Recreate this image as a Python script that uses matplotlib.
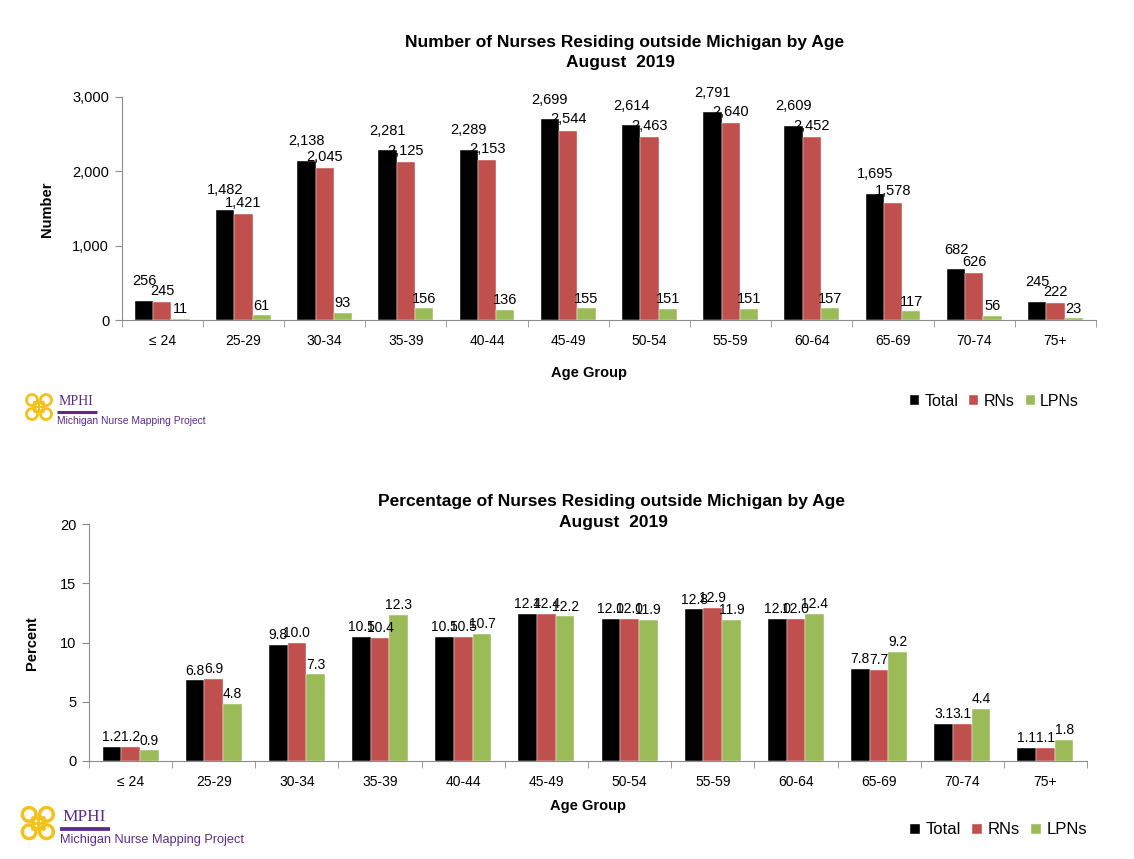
import matplotlib
matplotlib.use("Agg")
import matplotlib.pyplot as plt
from matplotlib.patches import Circle, Rectangle
import numpy as np

plt.rcParams['font.family'] = ['Liberation Sans', 'DejaVu Sans']

# data
age_groups = ["≤ 24", "25-29", "30-34", "35-39", "40-44", "45-49",
              "50-54", "55-59", "60-64", "65-69", "70-74", "75+"]

count_total = [256, 1482, 2138, 2281, 2289, 2699, 2614, 2791, 2609, 1695, 682, 245]
count_rn = [245, 1421, 2045, 2125, 2153, 2544, 2463, 2640, 2452, 1578, 626, 222]
count_lpn = [11, 61, 93, 156, 136, 155, 151, 151, 157, 117, 56, 23]

pct_total = [1.2, 6.8, 9.8, 10.5, 10.5, 12.4, 12.0, 12.8, 12.0, 7.8, 3.1, 1.1]
pct_rn = [1.2, 6.9, 10.0, 10.4, 10.5, 12.4, 12.0, 12.9, 12.0, 7.7, 3.1, 1.1]
pct_lpn = [0.9, 4.8, 7.3, 12.3, 10.7, 12.2, 11.9, 11.9, 12.4, 9.2, 4.4, 1.8]

series_names = ["Total", "RNs", "LPNs"]
colors = ["#000000", "#C0504D", "#9BBB59"]
axis_grey = "#8C8C8C"

W, H = 1134, 859
fig = plt.figure(figsize=(W / 100, H / 100), dpi=100)


def px_axes(left, top, right, bottom):
    return fig.add_axes([left / W, 1 - bottom / H, (right - left) / W, (bottom - top) / H])


def ftext(x, y, s, **kw):
    # text placed in figure pixels from the top-left
    fig.text(x / W, 1 - y / H, s, ha=kw.pop("ha", "center"), va=kw.pop("va", "center"), **kw)


def bar_chart(ax, series, ymax, ystep, fmt, gaps, label_size):
    x = np.arange(len(age_groups))
    bw = 0.225
    handles = []
    for i, (vals, c) in enumerate(zip(series, colors)):
        pos = x + (i - 1) * bw
        b = ax.bar(pos, vals, width=bw, color=c, edgecolor="white", linewidth=0.3)
        handles.append(b)
        for p, v in zip(pos, vals):
            ax.annotate(fmt(v), (p, v), xytext=(0, gaps[i]), textcoords="offset points",
                        ha="center", va="bottom", fontsize=label_size)
    ax.set_xlim(-0.5, len(age_groups) - 0.5)
    ax.set_ylim(0, ymax)
    ticks = np.arange(0, ymax + 1e-9, ystep)
    ax.set_yticks(ticks)
    if ymax > 100:
        ax.set_yticklabels([f"{int(t):,}" for t in ticks])
    else:
        ax.set_yticklabels([f"{int(t)}" for t in ticks])
    ax.set_xticks(x)
    ax.set_xticklabels(age_groups)
    ax.set_xticks(np.arange(-0.5, len(age_groups)), minor=True)
    ax.tick_params(axis="x", which="major", length=0, pad=10, labelsize=10)
    ax.tick_params(axis="x", which="minor", length=5, color=axis_grey, direction="out")
    ax.tick_params(axis="y", length=5, color=axis_grey, labelsize=10.5, pad=4)
    for s in ["top", "right"]:
        ax.spines[s].set_visible(False)
    for s in ["left", "bottom"]:
        ax.spines[s].set_color(axis_grey)
    return handles


def legend(handles, right, y, size):
    fig.legend(handles, series_names, loc="center right", bbox_to_anchor=(right / W, 1 - y / H),
               ncol=3, frameon=False, fontsize=size, handlelength=0.55, handleheight=0.55,
               handletextpad=0.35, columnspacing=0.7, borderaxespad=0, borderpad=0)


# overlay in figure pixels for the MPHI logos
ov = fig.add_axes([0, 0, 1, 1])
ov.set_xlim(0, W)
ov.set_ylim(H, 0)
ov.axis("off")


def logo(x, y, s):
    # simplified MPHI logo: gold knot + purple text, (x, y) = top-left of knot
    gold = "#F2C21B"
    purple = "#5B2C8A"
    r = 5.5 * s
    for cx, cy in [(9, 10), (23, 10), (9, 24), (23, 24)]:
        ov.add_patch(Circle((x + cx * s, y + cy * s), r, fill=False, ec=gold, lw=2.0 * s))
    for k in range(3):
        ov.plot([x + 11 * s, x + 21 * s], [y + (13 + 4 * k) * s] * 2, color=gold, lw=1.6 * s)
        ov.plot([x + (12 + 4 * k) * s] * 2, [y + 12 * s, y + 22 * s], color=gold, lw=1.6 * s)
    ov.text(x + 36 * s, y + 15 * s, "MPHI", fontsize=10 * s, color=purple,
            family="Liberation Serif", va="baseline", ha="left")
    ov.plot([x + 34 * s, x + 74 * s], [y + 22 * s] * 2, color=purple, lw=2.2 * s,
            solid_capstyle="butt")
    ov.text(x + 34 * s, y + 31 * s, "Michigan Nurse Mapping Project", fontsize=7.4 * s,
            color=purple, va="center", ha="left")


# top chart
ax1 = px_axes(121.7, 96.7, 1096, 320)
h1 = bar_chart(ax1, [count_total, count_rn, count_lpn], 3000, 1000,
               lambda v: f"{v:,}", [9, 3, 2], 10.5)
ftext(625, 42, "Number of Nurses Residing outside Michigan by Age", fontweight="bold", fontsize=12.5)
ftext(620, 62, "August  2019", fontweight="bold", fontsize=12.5)
ftext(47, 209, "Number", fontweight="bold", fontsize=10.5, rotation=90)
ftext(589, 373, "Age Group", fontweight="bold", fontsize=10.5)
legend(h1, 1079, 401, 11.5)
logo(23, 390, 1.0)

# bottom chart
ax2 = px_axes(89, 524, 1087, 761)
h2 = bar_chart(ax2, [pct_total, pct_rn, pct_lpn], 20, 5,
               lambda v: f"{v:.1f}", [2, 2, 2], 10)
ftext(611, 501, "Percentage of Nurses Residing outside Michigan by Age", fontweight="bold", fontsize=12.5)
ftext(613, 523, "August  2019", fontweight="bold", fontsize=12.5)
ftext(32, 643, "Percent", fontweight="bold", fontsize=10.5, rotation=90)
ftext(588, 806, "Age Group", fontweight="bold", fontsize=10.5)
legend(h2, 1087, 830, 12)
logo(18, 802, 1.24)

fig.savefig("out.png", dpi=100, facecolor="white")
